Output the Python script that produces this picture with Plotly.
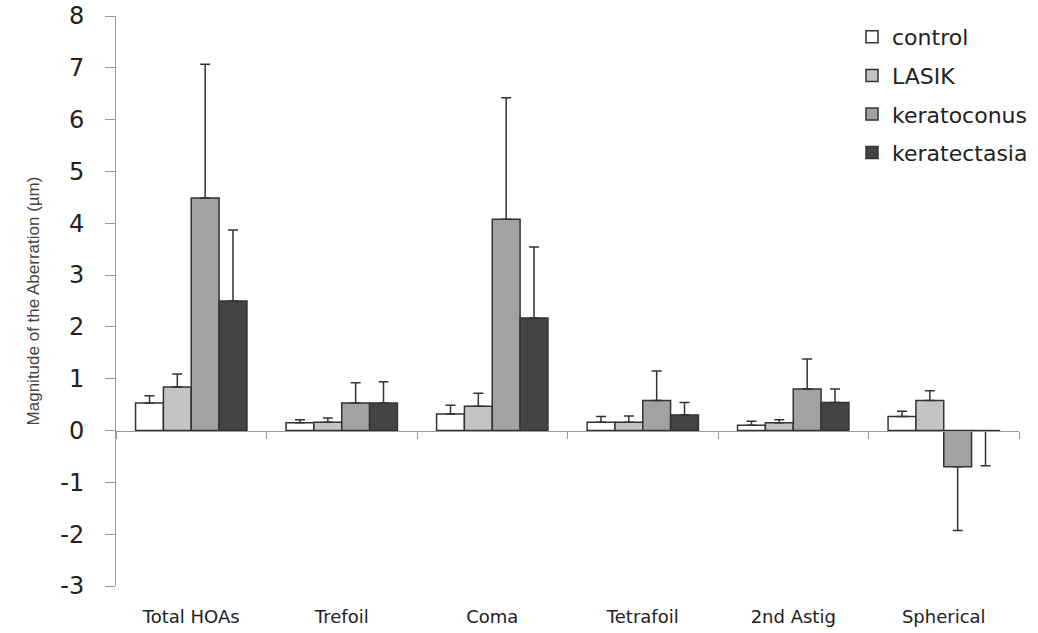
import plotly.graph_objects as go

categories = ["Total HOAs", "Trefoil", "Coma", "Tetrafoil", "2nd Astig", "Spherical"]
series_names = ["control", "LASIK", "keratoconus", "keratectasia"]

control_vals = [0.53, 0.15, 0.32, 0.16, 0.10, 0.27]
control_sd = [0.14, 0.06, 0.17, 0.11, 0.08, 0.10]
lasik_vals = [0.84, 0.16, 0.47, 0.16, 0.15, 0.58]
lasik_sd = [0.25, 0.08, 0.25, 0.12, 0.06, 0.19]
keratoconus_vals = [4.49, 0.53, 4.08, 0.58, 0.80, -0.70]
keratoconus_sd = [2.58, 0.39, 2.34, 0.57, 0.58, 1.23]
keratectasia_vals = [2.50, 0.53, 2.17, 0.30, 0.54, -0.01]
keratectasia_sd = [1.37, 0.41, 1.37, 0.24, 0.26, 0.67]

y_ticks = [-3, -2, -1, 0, 1, 2, 3, 4, 5, 6, 7, 8]

values = [control_vals, lasik_vals, keratoconus_vals, keratectasia_vals]
sds = [control_sd, lasik_sd, keratoconus_sd, keratectasia_sd]
fills = ["#ffffff", "#c4c4c4", "#a2a2a2", "#444444"]

fig = go.Figure()
for name, v, sd, col in zip(series_names, values, sds, fills):
    plus = [s if val >= 0 else 0 for val, s in zip(v, sd)]
    minus = [0 if val >= 0 else s for val, s in zip(v, sd)]
    fig.add_trace(go.Bar(
        x=categories, y=v, name=name, legendgroup=name,
        marker=dict(color=col, line=dict(color="#333333", width=1.5)),
        error_y=dict(type="data", symmetric=False, array=plus, arrayminus=minus,
                     color="#333333", thickness=1.5, width=5),
    ))

# invisible helper trace so the zero-crossing category axis is drawn
fig.add_trace(go.Bar(x=categories, y=control_vals, xaxis="x2", opacity=0,
                     showlegend=False, hoverinfo="skip", marker_color="rgba(0,0,0,0)"))

fig.update_layout(
    width=1038, height=633,
    margin=dict(l=116, r=19, t=16, b=47, autoexpand=False),
    paper_bgcolor="white", plot_bgcolor="white",
    barmode="group", bargap=0.26, bargroupgap=0,
    font=dict(family="DejaVu Sans", color="#222222"),
    showlegend=True,
    legend=dict(
        xref="container", yref="container",
        x=852 / 1038, y=1 - 16 / 633, xanchor="left", yanchor="top",
        font=dict(family="DejaVu Sans", size=22, color="#222222"),
        tracegroupgap=7, bgcolor="rgba(0,0,0,0)",
    ),
    xaxis=dict(
        type="category", categoryorder="array", categoryarray=categories,
        range=[-0.5, 5.5], showline=False, ticks="", showgrid=False, zeroline=False,
        tickfont=dict(family="DejaVu Sans", size=18, color="#222222"),
        ticklabelstandoff=18,
    ),
    xaxis2=dict(
        type="category", categoryorder="array", categoryarray=categories,
        range=[-0.5, 5.5], overlaying="x", anchor="free", position=3 / 11,
        showline=True, linecolor="#9a9a9a", linewidth=1,
        ticks="outside", tickson="boundaries", ticklen=7, tickcolor="#9a9a9a",
        showticklabels=False, showgrid=False, zeroline=False,
    ),
    yaxis=dict(
        range=[-3, 8], tickvals=y_ticks, ticktext=[str(t) for t in y_ticks],
        showline=True, linecolor="#9a9a9a", linewidth=1,
        ticks="outside", ticklen=10, tickcolor="#9a9a9a",
        showgrid=False, zeroline=False,
        tickfont=dict(family="DejaVu Sans", size=24, color="#222222"),
        ticklabelstandoff=16,
        title=dict(text="Magnitude of the Aberration (µm)",
                   font=dict(family="Liberation Sans", size=17, color="#444444"),
                   standoff=16),
    ),
)

fig.write_html("out.html")
